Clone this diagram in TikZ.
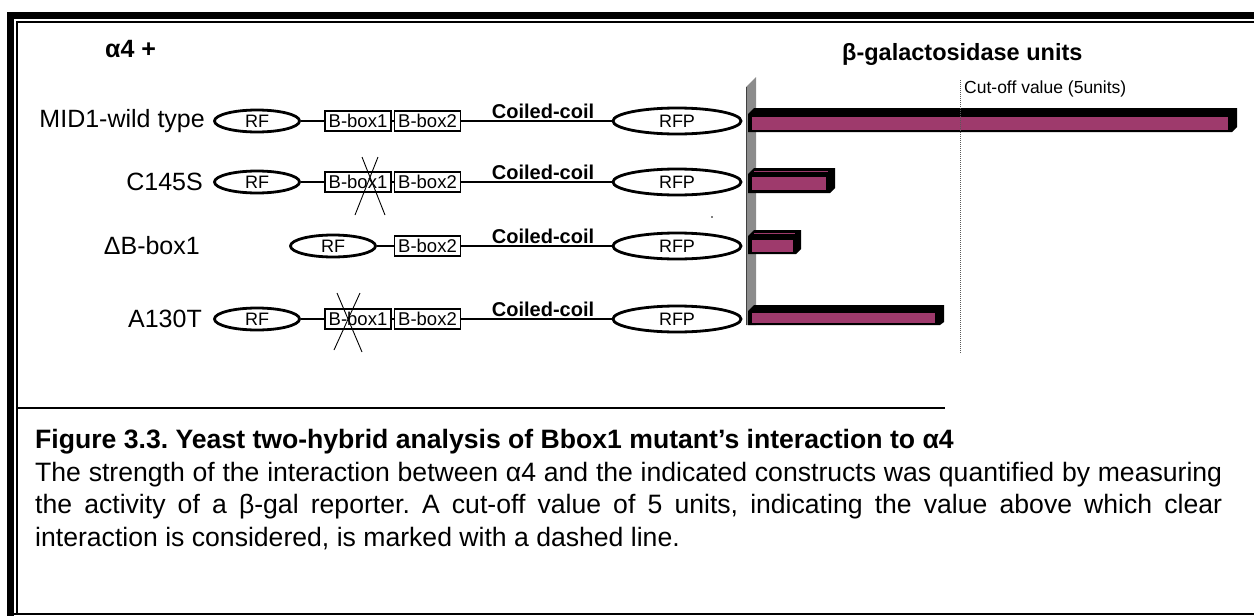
\documentclass[tikz,border=0pt]{standalone}
\usepackage{fontspec}
\setmainfont{Liberation Sans}
\usetikzlibrary{shapes.geometric}
\definecolor{barmag}{HTML}{9E3A6C}
\definecolor{wallgray}{HTML}{8C8C8C}
\frenchspacing
\begin{document}
\begin{tikzpicture}[x=1pt,y=-1pt,
 lab/.style={font=\fontsize{25}{25}\selectfont, anchor=east, inner sep=0},
 rf/.style={ellipse, draw, line width=2.8pt, minimum width=85pt, minimum height=22pt, inner sep=0, font=\fontsize{18}{18}\selectfont},
 rfp/.style={rf, minimum width=128pt, minimum height=26pt},
 bbox/.style={draw, line width=1.8pt, minimum width=66pt, minimum height=20pt, inner sep=0, font=\fontsize{18.5}{18.5}\selectfont},
 link/.style={line width=2pt},
 cc/.style={font=\bfseries\fontsize{20}{20}\selectfont, inner sep=0},
 xmark/.style={line width=0.9pt},
 bartop/.style={draw=barmag, line width=1pt}]
\useasboundingbox (0,0) rectangle (1254,616);
% frame
\draw[line width=7pt] (10,616) -- (10,15) -- (1254,15);
\draw[line width=1.6pt] (17,613) -- (17,22) -- (1254,22);
\draw[line width=2pt] (10,613.5) -- (1254,613.5);
\draw[line width=1.5pt] (17,408) -- (945,408);
% headers
\node[font=\bfseries\fontsize{25}{25}\selectfont, anchor=west, inner sep=0] (alpha) at (105,49) {α4\hspace{7pt}+};
\node[font=\bfseries\fontsize{23.5}{23.5}\selectfont, anchor=west, inner sep=0] (beta) at (842,54) {β-galactosidase units};
% row 1
\node[lab] (l1) at (205,121) {MID1-wild type};
\node[rf] (rf1) at (257,121) {RF};
\node[bbox] (ba1) at (358,121) {B-box1};
\node[bbox] (bb1) at (427.5,121) {B-box2};
\node[rfp] (rfp1) at (677,121) {RFP};
\node[cc] (cc1) at (543,111) {Coiled-coil};
\draw[link] (rf1.east) -- (ba1.west);
\draw[link] (ba1.east) -- (bb1.west);
\draw[link] (bb1.east) -- (rfp1.west);
% row 2
\node[lab] (l2) at (203,182) {C145S};
\node[rf] (rf2) at (257,182) {RF};
\node[bbox] (ba2) at (358,182) {B-box1};
\node[bbox] (bb2) at (427.5,182) {B-box2};
\node[rfp] (rfp2) at (677,182) {RFP};
\node[cc] (cc2) at (543,172) {Coiled-coil};
\draw[link] (rf2.east) -- (ba2.west);
\draw[link] (ba2.east) -- (bb2.west);
\draw[link] (bb2.east) -- (rfp2.west);
\draw[xmark] (362,157) -- (385,215);
\draw[xmark] (378,157) -- (355,215);
% row 3
\node[lab] (l3) at (200,246) {ΔB-box1};
\node[rf] (rf3) at (333,246) {RF};
\node[bbox] (bb3) at (427.5,246) {B-box2};
\node[rfp] (rfp3) at (677,246) {RFP};
\node[cc] (cc3) at (543,236) {Coiled-coil};
\draw[link] (rf3.east) -- (bb3.west);
\draw[link] (bb3.east) -- (rfp3.west);
% row 4
\node[lab] (l4) at (202,319) {A130T};
\node[rf] (rf4) at (257,319) {RF};
\node[bbox] (ba4) at (358,319) {B-box1};
\node[bbox] (bb4) at (427.5,319) {B-box2};
\node[rfp] (rfp4) at (677,319) {RFP};
\node[cc] (cc4) at (543,309) {Coiled-coil};
\draw[link] (rf4.east) -- (ba4.west);
\draw[link] (ba4.east) -- (bb4.west);
\draw[link] (bb4.east) -- (rfp4.west);
\draw[xmark] (337,293) -- (362,352);
\draw[xmark] (360,293) -- (334,350);
% stray dot
\fill (712,217) circle (0.8);
% chart wall
\fill[wallgray] (746,87) -- (756,77) -- (756,325) -- (746,325) -- cycle;
\draw[line width=0.6pt, gray!50!black] (746,87) -- (746,325);
% bars
\fill (748,114) -- (754,108) -- (1237,108) -- (1237,127) -- (1232,132) -- (748,132) -- cycle;
\fill[barmag] (752,117) rectangle (1228,130);
\fill (748,174) -- (754,168) -- (835,168) -- (835,188) -- (830,193) -- (748,193) -- cycle;
\fill[barmag] (752,177) rectangle (826,190);
\draw[bartop] (754,171.5) -- (828,171.5);
\fill (748,236) -- (754,230) -- (801,230) -- (801,249) -- (796,254) -- (748,254) -- cycle;
\fill[barmag] (752,240) rectangle (793,252);
\draw[bartop] (754,233.5) -- (795,233.5);
\fill (748,311) -- (754,305) -- (944,305) -- (944,322) -- (940,325) -- (748,325) -- cycle;
\fill[barmag] (752,313) rectangle (935,323);
% cut-off
\coordinate (cuttop) at (960,80);
\coordinate (cutbot) at (960,353);
\draw[densely dotted, line width=1pt, gray!70!black] (cuttop) -- (cutbot);
\node[font=\fontsize{17.5}{17.5}\selectfont, anchor=west, inner sep=0] (cutlab) at (964,89) {Cut-off value (5units)};
% caption
\node[font=\bfseries\fontsize{26.6}{26.6}\selectfont, anchor=base west, inner sep=0] (title) at (35,448) {Figure 3.3. Yeast two-hybrid analysis of Bbox1 mutant’s interaction to α4};
\node[font=\fontsize{26.6}{32.5}\selectfont, anchor=base west, inner sep=0, text width=1187pt, align=justify] (body) at (35,481) {The strength of the interaction between α4 and the indicated constructs was quantified by measuring\linebreak the activity of a β-gal reporter. A cut-off value of 5 units, indicating the value above which clear\linebreak interaction is considered, is marked with a dashed line.};
\end{tikzpicture}
\end{document}
